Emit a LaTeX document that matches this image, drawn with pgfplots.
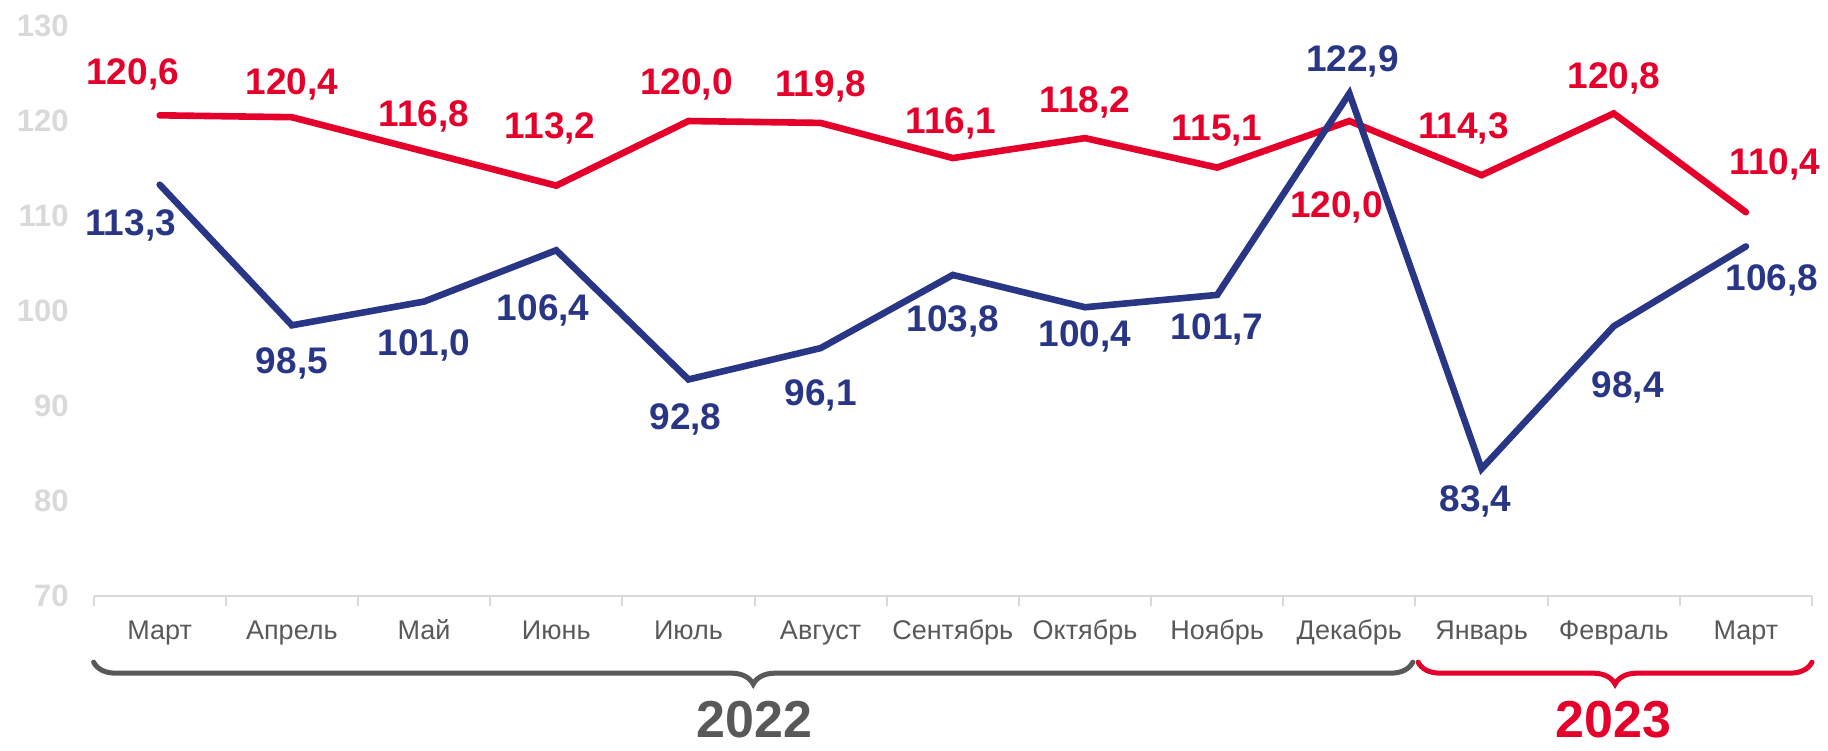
\documentclass[border=0pt]{standalone}
\usepackage{fontspec}
\setmainfont{Liberation Sans}
\usepackage{pgfplots}
\usepackage{pgfplotstable}
\pgfplotsset{compat=1.18}
\usetikzlibrary{decorations.pathreplacing}

\definecolor{cpiRed}{RGB}{228,0,43}
\definecolor{cpiBlue}{RGB}{41,54,133}
\definecolor{darkGray}{RGB}{89,89,89}
\definecolor{lightGray}{RGB}{217,217,217}

% x: month index; rdx/rdy, bdx/bdy: label offsets in pt
\pgfplotstableread{
x  red    rdx    rdy    blue   bdx    bdy
0  120.6  -13.5  22     113.3  -14.5  -19
1  120.4  0      18     98.5   0      -17.5
2  116.8  0      19     101.0  0      -20.5
3  113.2  -3     30     106.4  -6.5   -28.5
4  120.0  -1     20     92.8   -1.5   -18.5
5  119.8  0      19.5   96.1   0      -22
6  116.1  -1     19     103.8  0      -21.5
7  118.2  0      19.5   100.4  0      -13
8  115.1  0      20     101.7  0      -16
9  120.0  -6.5   -41.5  122.9  1.5    17.5
10 114.3  -9     25     83.4   -3     -15
11 120.8  0      19     98.4   7      -29
12 110.4  14.5   25.5   106.8  13     -15.5
}\indexdata

\begin{document}
\begin{tikzpicture}
\begin{axis}[
    scale only axis,
    width=859pt, height=285pt,
    xmin=-0.5, xmax=12.5,
    ymin=70, ymax=130,
    axis x line*=bottom, axis y line*=left,
    x axis line style={-, draw=lightGray, line width=1pt},
    y axis line style={draw=none},
    xtick={0,...,12},
    xticklabels={Март,Апрель,Май,Июнь,Июль,Август,Сентябрь,Октябрь,Ноябрь,Декабрь,Январь,Февраль,Март},
    minor xtick={-0.5,0.5,...,12.5},
    ytick={70,80,...,130},
    major tick length=0pt, minor tick length=5pt, tick align=outside,
    xtick style={draw=lightGray, line width=1pt},
    ytick style={draw=none},
    xticklabel style={font=\fontsize{13.5}{16}\selectfont, text=darkGray,
        text height=10pt, text depth=3pt, yshift=-8pt},
    yticklabel style={font=\bfseries\fontsize{15.5}{17}\selectfont, text=lightGray, xshift=-9pt},
    /pgf/number format/assume math mode=true,
    clip=false,
    nodes near coords={\pgfmathprintnumber[use comma,fixed,fixed zerofill,precision=1]{\pgfplotspointmeta}},
    every node near coord/.style={font=\bfseries\fontsize{18.5}{20}\selectfont, anchor=center,
        xshift=\dx pt, yshift=\dy pt, yshift=-1.5pt},
]
\addplot[cpiRed, line width=3.3pt, line cap=round, line join=miter, no markers,
    visualization depends on={\thisrow{rdx}\as\dx},
    visualization depends on={\thisrow{rdy}\as\dy},
    nodes near coords style={text=cpiRed}]
    table[x=x, y=red] {\indexdata};
\addplot[cpiBlue, line width=3.3pt, line cap=round, line join=miter, no markers,
    visualization depends on={\thisrow{bdx}\as\dx},
    visualization depends on={\thisrow{bdy}\as\dy},
    nodes near coords style={text=cpiBlue}]
    table[x=x, y=blue] {\indexdata};

% year braces
\draw[darkGray, line width=2.5pt, line cap=round, decorate,
    decoration={brace, mirror, amplitude=11pt, aspect=0.5}]
    (axis cs:-0.5,63.05) -- (axis cs:9.48,63.05);
\draw[cpiRed, line width=2.5pt, line cap=round, decorate,
    decoration={brace, mirror, amplitude=11pt, aspect=0.5}]
    (axis cs:9.52,63.05) -- (axis cs:12.5,63.05);
\node[font=\bfseries\fontsize{26}{28}\selectfont, text=darkGray] at (axis cs:4.5,57.0) {2022};
\node[font=\bfseries\fontsize{26}{28}\selectfont, text=cpiRed] at (axis cs:11,57.0) {2023};
\end{axis}
\pgfresetboundingbox
\path ([xshift=-46.8pt, yshift=-77pt]current axis.south west)
    rectangle ([xshift=8pt, yshift=13pt]current axis.north east);
\end{tikzpicture}
\end{document}
